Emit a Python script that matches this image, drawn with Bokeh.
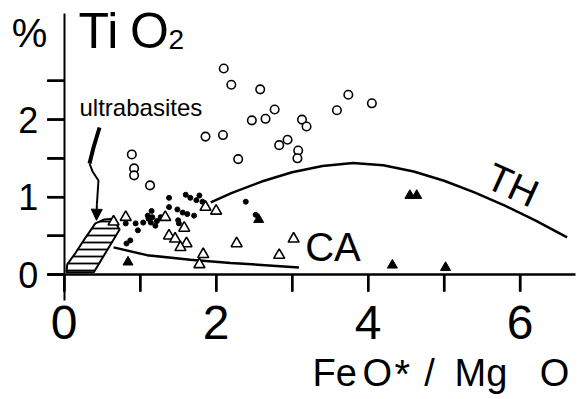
from bokeh.plotting import figure
from bokeh.models import (Range1d, FixedTicker, Label, Arrow, NormalHead,
                          ColumnDataSource)
from bokeh.embed import file_html
from bokeh.resources import INLINE

# ---------------- data ----------------
# tholeiitic series (open circles): FeO*/MgO, TiO2 %
circ_x = [2.10, 2.20, 2.58, 3.74, 4.05, 3.59, 2.77, 2.65, 2.47, 3.13, 3.19,
          2.94, 2.83, 3.08, 3.07, 2.29, 1.86, 2.09, 0.89, 0.92, 0.92, 1.13]
circ_y = [2.66, 2.45, 2.39, 2.32, 2.21, 2.12, 2.13, 2.01, 1.99, 2.00, 1.91,
          1.74, 1.67, 1.60, 1.50, 1.49, 1.78, 1.80, 1.55, 1.37, 1.28, 1.15]

# calc-alkaline series (open triangles)
tri_x = [0.81, 0.65, 1.33, 1.58, 1.38, 1.46, 1.61, 1.53, 1.83, 1.78, 1.86,
         2.00, 2.27, 3.02, 2.83]
tri_y = [0.74, 0.68, 0.74, 0.60, 0.50, 0.46, 0.40, 0.35, 0.26, 0.13, 0.87,
         0.82, 0.40, 0.46, 0.25]

# filled triangles
ftri_x = [0.84, 2.56, 4.55, 4.64, 4.32, 5.02]
ftri_y = [0.16, 0.71, 1.02, 1.02, 0.12, 0.09]

# small dots
dot_x = [1.38, 1.60, 1.66, 1.78, 1.82, 1.38, 1.49, 1.56, 1.62, 1.71, 1.15,
         1.10, 1.16, 1.22, 1.27, 1.04, 0.94, 0.81, 0.97, 0.87, 0.82, 1.50,
         1.51, 2.39, 2.52, 1.11, 1.14, 1.20, 1.74]
dot_y = [0.99, 1.03, 0.99, 1.02, 0.94, 0.87, 0.84, 0.80, 0.78, 0.76, 0.82,
         0.76, 0.74, 0.69, 0.74, 0.67, 0.66, 0.66, 0.57, 0.44, 0.40, 0.70,
         0.66, 0.94, 0.77, 0.72, 0.67, 0.63, 0.96]

# TH boundary curve
th_x = [1.93, 2.20, 2.60, 3.00, 3.40, 3.80, 4.20, 4.60, 5.00, 5.40, 5.80, 6.20, 6.62]
th_y = [0.93, 1.05, 1.20, 1.32, 1.40, 1.44, 1.41, 1.33, 1.21, 1.06, 0.89, 0.70, 0.48]

# CA trend line
ca_x = [0.65, 1.09, 1.66, 2.19, 3.09]
ca_y = [0.35, 0.25, 0.19, 0.15, 0.09]

# ultrabasites field (hatched)
ub_x = [0.03, 0.04, 0.15, 0.27, 0.41, 0.53, 0.64, 0.73, 0.39]
ub_y = [0.03, 0.13, 0.28, 0.46, 0.66, 0.71, 0.72, 0.58, 0.03]

# pointer from the "ultrabasites" label
arr_top_x = [0.465, 0.386, 0.333]
arr_top_y = [1.898, 1.640, 1.433]
arr_low_x = [0.333, 0.373, 0.451, 0.438, 0.430]
arr_low_y = [1.433, 1.330, 1.214, 1.020, 0.900]
arr_tip = (0.425, 0.70)

# axes
x_ticks = [0, 1, 2, 3, 4, 5, 6]
x_tick_labels = ["0", "", "2", "", "4", "", "6"]
y_ticks = [0, 0.5, 1, 1.5, 2, 2.5]
y_tick_labels = ["0", "", "1", "", "2", ""]
x_axis_extent = (-0.22, 6.73)
y_axis_extent = (-0.335, 3.37)

# ---------------- figure: frame = whole canvas, axes fixed at 0 ----------------
W, H = 580, 398
PXU_X, PXU_Y = 75.97, 77.46          # pixels per data unit
X0 = -63.7 / PXU_X
X1 = X0 + W / PXU_X
Y1 = 274.0 / PXU_Y
Y0 = Y1 - H / PXU_Y
TICK_PX = 17

p = figure(width=W, height=H, x_range=Range1d(X0, X1), y_range=Range1d(Y0, Y1),
           min_border_left=0, min_border_top=0, min_border_right=0, min_border_bottom=0,
           output_backend="svg", toolbar_location=None)
p.xgrid.visible = False
p.ygrid.visible = False
p.outline_line_color = None
p.background_fill_color = None
p.border_fill_color = None

SANS = "Liberation Sans"

xa = p.xaxis[0]
xa.fixed_location = 0
xa.bounds = x_axis_extent
xa.ticker = FixedTicker(ticks=x_ticks)
xa.major_label_overrides = {t: l for t, l in zip(x_ticks, x_tick_labels)}
xa.axis_line_width = 2.5
xa.major_tick_line_color = "black"
xa.major_tick_line_width = 2
xa.major_tick_out = TICK_PX
xa.major_tick_in = 0
xa.minor_tick_line_color = None
xa.major_label_text_font = SANS
xa.major_label_text_font_size = "48px"
xa.major_label_text_color = "black"
xa.major_label_standoff = 14

ya = p.yaxis[0]
ya.fixed_location = 0
ya.bounds = y_axis_extent
ya.ticker = FixedTicker(ticks=y_ticks)
ya.major_label_overrides = {t: l for t, l in zip(y_ticks, y_tick_labels)}
ya.axis_line_width = 2
ya.major_tick_line_color = "black"
ya.major_tick_line_width = 2
ya.major_tick_out = TICK_PX
ya.major_tick_in = 0
ya.minor_tick_line_color = None
ya.major_label_text_font = SANS
ya.major_label_text_font_size = "36px"
ya.major_label_text_color = "black"
ya.major_label_standoff = 9

# tick marks built from the tick arrays (outward from the fixed axes)
xtick_src = ColumnDataSource(dict(x=x_ticks, y0=[0] * len(x_ticks),
                                  y1=[-TICK_PX / PXU_Y] * len(x_ticks)))
ytick_src = ColumnDataSource(dict(y=y_ticks, x0=[0] * len(y_ticks),
                                  x1=[-TICK_PX / PXU_X] * len(y_ticks)))
xt = p.segment(x0="x", y0="y0", x1="x", y1="y1", source=xtick_src,
               line_color="black", line_width=2.2)
yt = p.segment(x0="x0", y0="y", x1="x1", y1="y", source=ytick_src,
               line_color="black", line_width=2.2)
xt.level = "overlay"
yt.level = "overlay"
p.add_layout(Arrow(source=xtick_src, x_start="x", y_start="y0", x_end="x", y_end="y1",
                   start=None, end=None, line_color="black", line_width=2.2))
p.add_layout(Arrow(source=ytick_src, x_start="x0", y_start="y", x_end="x1", y_end="y",
                   start=None, end=None, line_color="black", line_width=2.2))

# ultrabasite field
p.patch(ub_x, ub_y, fill_color=None, line_color="black", line_width=2,
        hatch_pattern="horizontal_line", hatch_scale=7, hatch_weight=1.8,
        hatch_color="black")

# curves
p.line(th_x, th_y, line_color="black", line_width=2.5)
p.line(ca_x, ca_y, line_color="black", line_width=2.5)

# pointer
p.line(arr_top_x, arr_top_y, line_color="black", line_width=4)
p.line(arr_low_x, arr_low_y, line_color="black", line_width=2)
p.add_layout(Arrow(end=NormalHead(size=11, line_color="black", fill_color="black"),
                   x_start=arr_low_x[-1], y_start=arr_low_y[-1],
                   x_end=arr_tip[0], y_end=arr_tip[1],
                   line_color="black", line_width=2))

# points
p.scatter(dot_x, dot_y, marker="circle", size=5, fill_color="black", line_color="black")
p.scatter(circ_x, circ_y, marker="circle", size=8.5, fill_color="white",
          line_color="black", line_width=1.6)
p.scatter(tri_x, tri_y, marker="triangle", size=11, fill_color="white",
          line_color="black", line_width=1.6)
p.scatter(ftri_x, ftri_y, marker="triangle", size=10, fill_color="black",
          line_color="black", line_width=1)


# ---------------- text annotations (page-pixel placement) ----------------
def px2x(px):
    return X0 + px / PXU_X


def py2y(py):
    return Y1 - py / PXU_Y


def lab(text, px, py, size, align="left", baseline="alphabetic", angle=0):
    if baseline == "alphabetic":
        py = py - 0.39 * size      # compensate the renderer's baseline offset
    p.add_layout(Label(x=px2x(px), y=py2y(py), text=text, text_font=SANS,
                       text_font_size=f"{size}px", text_align=align,
                       text_baseline=baseline, text_color="black",
                       angle=angle, angle_units="deg"))


lab("%", 29, 48, 40, align="center")
lab("Ti", 78, 50, 50)
lab("O", 129.5, 50, 50)
lab("2", 168, 50, 28)
lab("ultrabasites", 79, 116.7, 24)
lab("CA", 332.5, 262, 40, align="center")
lab("TH", 512, 184.5, 39, align="center", baseline="middle", angle=-24.5)
lab("Fe", 312, 387, 38)
lab("O", 362, 387, 38)
lab("*", 394, 389, 40)
lab("/", 429, 387, 38, align="center")
lab("Mg", 454, 387, 38)
lab("O", 554, 387, 38, align="center")

open("out.html", "w").write(file_html(p, INLINE))
